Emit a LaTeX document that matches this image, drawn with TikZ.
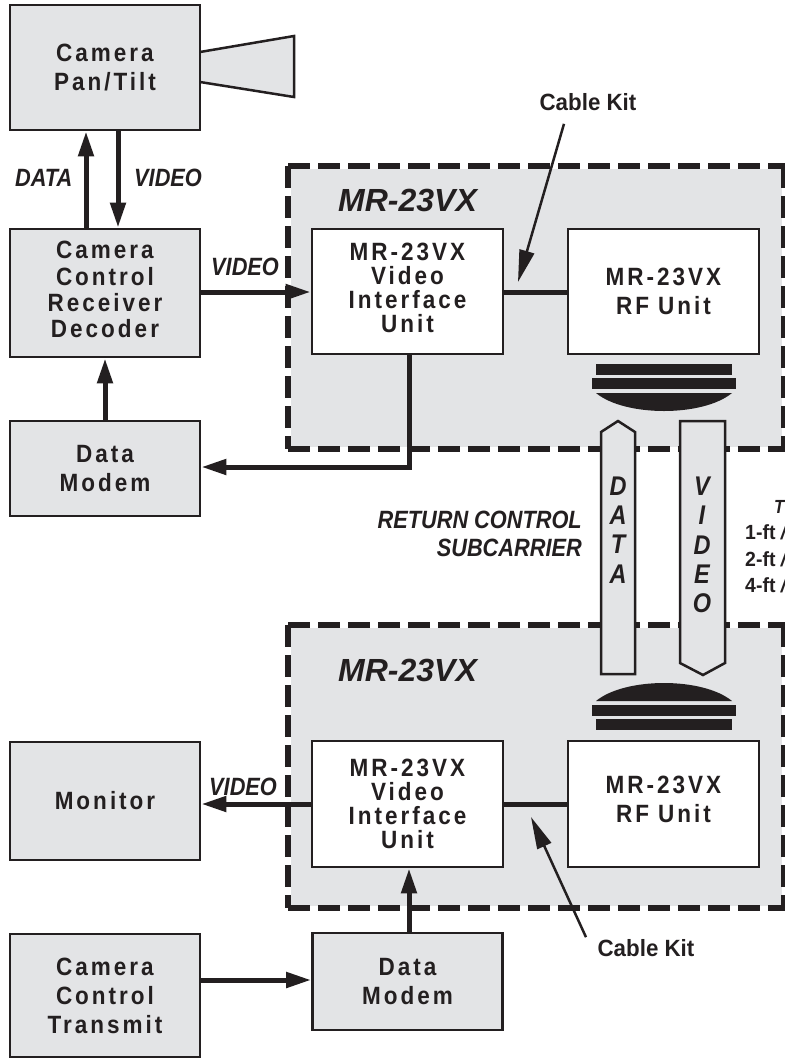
\documentclass[tikz,border=0pt]{standalone}
\usepackage{fontspec}
\usetikzlibrary{arrows.meta}
\newfontfamily\boxf[LetterSpace=12,FakeStretch=.9]{Liberation Sans}
\newfontfamily\labf[FakeStretch=.87]{Liberation Sans}
\newfontfamily\kitf[FakeStretch=.95]{Liberation Sans}
\newfontfamily\bigf{Liberation Sans}
\definecolor{pg}{HTML}{E3E4E6}
\definecolor{ink}{HTML}{231F20}
\tikzset{
 x=1pt,y=-1pt,
 boxbase/.style={draw=ink,line width=2.8pt,inner sep=0pt,align=center,text=ink,minimum width=190pt,
   font={\boxf\bfseries\fontsize{25}{29}\selectfont}},
 graybox/.style={boxbase,fill=pg},
 whitebox/.style={boxbase,fill=white},
 tight/.style={font={\boxf\bfseries\fontsize{25}{24}\selectfont}},
 lab/.style={inner sep=0pt,anchor=base west,text=ink,font={\labf\bfseries\itshape\fontsize{25}{28}\selectfont}},
 kit/.style={inner sep=0pt,text=ink,font={\kitf\bfseries\fontsize{23.5}{28}\selectfont}},
 unitlab/.style={inner sep=0pt,anchor=base west,text=ink,font={\bigf\bfseries\itshape\fontsize{32}{34}\selectfont}},
 vlab/.style={inner sep=0pt,align=center,text=ink,font={\labf\bfseries\itshape\fontsize{27}{29.3}\selectfont}},
 conn/.style={draw=ink,line width=5pt,-{Triangle[length=25pt,width=15pt]}},
 plainconn/.style={draw=ink,line width=5pt},
 thin arrow/.style={draw=ink,line width=2.5pt,-{Triangle[length=32pt,width=15pt]}},
 frame/.style={draw=ink,line width=5.5pt,dash pattern=on 21.5pt off 8.5pt},
 pipe/.style={draw=ink,line width=2.5pt,fill=pg,line join=miter},
 sidetxt/.style={inner sep=0pt,anchor=base west,text=ink,font={\kitf\bfseries\fontsize{20.5}{27}\selectfont}},
}
\begin{document}
\begin{tikzpicture}
\useasboundingbox (0,0) rectangle (785,1061);
\clip (0,0) rectangle (785,1061);
% unit frames
\fill[pg] (290.5,168.5) rectangle (782,446.5);
\fill[pg] (290.5,627.5) rectangle (782,905.5);
\foreach \t/\b in {166/449,625/908}{
  \draw[frame] (288,\t) -- (785,\t);
  \draw[frame] (288,\t) -- (288,\b);
  \draw[frame] (288,\b) -- (785,\b);
  \draw[frame] (784,\t) -- (784,\b);
}
\node[unitlab] (u1) at (338,211) {MR-23VX};
\node[unitlab] (u2) at (338,681) {MR-23VX};
% camera cone
\fill[pg] (201,52) -- (294,36) -- (294,97) -- (201,82) -- cycle;
\draw[draw=ink,line width=2.5pt,line join=miter] (200,52) -- (294,36) -- (294,97) -- (200,82);
% boxes
\node[graybox,minimum height=125pt] (cam) at (105,67.5) {Camera\\Pan/Tilt};
\node[graybox,minimum height=128pt,text depth=7pt,font={\boxf\bfseries\fontsize{25}{26.3}\selectfont}] (ccrd) at (105,293) {Camera\\Control\\Receiver\\Decoder};
\node[graybox,minimum height=95pt] (dm1) at (105,468.5) {Data\\Modem};
\node[graybox,minimum height=118pt] (mon) at (105,801) {Monitor};
\node[graybox,minimum height=123pt] (cct) at (105,995.5) {Camera\\Control\\Transmit};
\node[graybox,minimum height=97pt] (dm2) at (407.5,981.5) {Data\\Modem};
\node[whitebox,tight,minimum height=125pt,minimum width=191pt,text depth=8pt] (vi1) at (407.5,291.5) {MR-23VX\\Video\\Interface\\Unit};
\node[whitebox,minimum height=125pt,minimum width=191pt] (rf1) at (663.5,291.5) {MR-23VX\\RF Unit};
\node[whitebox,tight,minimum height=126pt,minimum width=191pt] (vi2) at (407.5,804) {MR-23VX\\Video\\Interface\\Unit};
\node[whitebox,minimum height=126pt,minimum width=191pt,text depth=10pt] (rf2) at (663.5,804) {MR-23VX\\RF Unit};
% antennas
\fill[ink] (596,364) rectangle (732,375);
\fill[ink] (592,378) rectangle (736,389);
\fill[ink] (596,393) .. controls (625,417) and (703,417) .. (732,393) -- cycle;
\fill[ink] (596,701) .. controls (625,677) and (703,677) .. (732,701) -- cycle;
\fill[ink] (592,705) rectangle (736,716);
\fill[ink] (596,719) rectangle (732,730);
% data / video pipes
\draw[pipe] (601,432) -- (618,421) -- (635,432) -- (635,674) -- (601,674) -- cycle;
\draw[pipe] (680,421) -- (725,421) -- (725,663) -- (703,675) -- (680,663) -- cycle;
\node[vlab] (pd) at (618,530) {D\\A\\T\\A};
\node[vlab] (pv) at (702,545) {V\\I\\D\\E\\O};
% connectors
\coordinate (xd) at (86,0);
\coordinate (xv) at (118,0);
\coordinate (xm) at (105,0);
\coordinate (xi) at (409,0);
\coordinate (yb) at (0,467);
\coordinate (ya) at (0,292);
\coordinate (yl) at (0,804);
\coordinate (yt) at (0,980);
\draw[conn] (ccrd.north -| xd) -- (cam.south -| xd);
\draw[conn] (cam.south -| xv) -- (ccrd.north -| xv);
\draw[conn] (ccrd.east |- ya) -- (vi1.west |- ya);
\draw[conn] (dm1.north -| xm) -- (ccrd.south -| xm);
\draw[conn] (vi1.south -| xi) -- (xi |- yb) -- (dm1.east |- yb);
\draw[plainconn] (vi1.east |- ya) -- (rf1.west |- ya);
\draw[plainconn] (vi2.east |- yl) -- (rf2.west |- yl);
\draw[conn] (vi2.west |- yl) -- (mon.east |- yl);
\draw[conn] (dm2.north -| xi) -- (vi2.south -| xi);
\draw[conn] (cct.east |- yt) -- (dm2.west |- yt);
% labels
\node[lab] (l1) at (15,186) {DATA};
\node[lab] (l2) at (134,186) {VIDEO};
\node[lab] (l3) at (211,275) {VIDEO};
\node[lab] (l4) at (209,795) {VIDEO};
\node[lab,anchor=base east,align=right] (l5) at (582,556) {RETURN CONTROL\\SUBCARRIER};
\node[kit] (k1) at (588,102) {Cable Kit};
\node[kit] (k2) at (646,948) {Cable Kit};
\coordinate (t1) at (518,282);
\coordinate (t2) at (531,817);
\draw[thin arrow] (k1.south) ++(-24,13) -- (t1);
\draw[thin arrow] (k2.north) ++(-60,-2) -- (t2);
% table fragment at right edge
\node[lab,font={\labf\bfseries\itshape\fontsize{19}{27}\selectfont}] (tt) at (774,513) {T};
\node[sidetxt] (t1ft) at (745,539) {1-ft \textit{/}};
\node[sidetxt] (t2ft) at (745,566) {2-ft \textit{/}};
\node[sidetxt] (t4ft) at (745,592) {4-ft \textit{/}};
\end{tikzpicture}
\end{document}
